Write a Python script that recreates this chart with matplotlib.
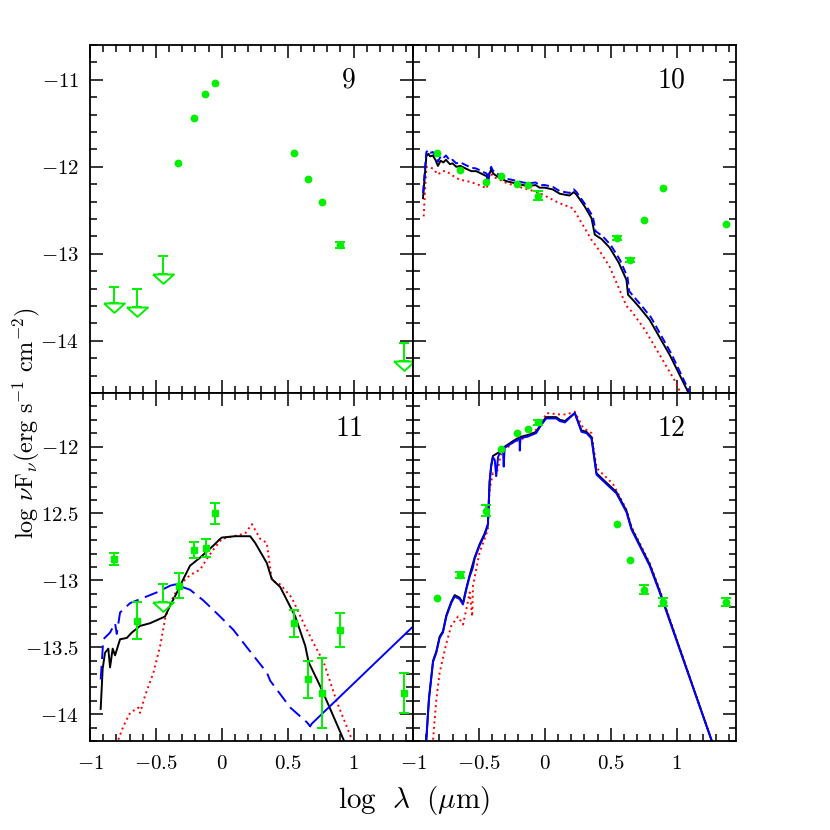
import numpy as np
import matplotlib.pyplot as plt
from matplotlib.ticker import MultipleLocator, FixedLocator, FixedFormatter

plt.rcParams['mathtext.fontset'] = 'cm'
plt.rcParams['font.family'] = 'serif'

GREEN = '#00f000'
TRI = [(-1, 0), (1, 0), (0, -0.9), (-1, 0)]  # open down-arrow head, top edge at the point

# ---------------- panel 9 ----------------
p9_x = [-0.332, -0.208, -0.125, -0.049, 0.549, 0.655, 0.759, 0.898]
p9_y = [-11.96, -11.44, -11.16, -11.04, -11.84, -12.14, -12.41, -12.90]
p9_err = [0, 0, 0, 0, 0, 0, 0, 0.03]
p9_ul_x = [-0.815, -0.641, -0.449, 1.384]
p9_ul_y = [-13.57, -13.61, -13.23, -14.23]
p9_ul_top = [-13.38, -13.41, -13.03, -14.03]

# ---------------- panel 10 ----------------
p10_x = [-0.816, -0.644, -0.449, -0.331, -0.212, -0.126, -0.053, 0.545, 0.646, 0.755, 0.894, 1.374]
p10_y = [-11.84, -12.04, -12.18, -12.11, -12.20, -12.21, -12.33, -12.82, -13.07, -12.61, -12.24, -12.66]
p10_err = [0, 0, 0, 0, 0, 0, 0.05, 0.02, 0.02, 0, 0, 0]

p10_black_x = [-0.924, -0.899, -0.885, -0.87, -0.85, -0.83, -0.811, -0.79, -0.77, -0.75, -0.72, -0.70,
               -0.672, -0.64, -0.60, -0.558, -0.52, -0.48, -0.44, -0.432, -0.42, -0.407, -0.395, -0.381,
               -0.35, -0.30, -0.28, -0.22, -0.167, -0.12, -0.07, -0.04, 0.0, 0.06, 0.114, 0.187, 0.22,
               0.24, 0.30, 0.354, 0.379, 0.43, 0.492, 0.56, 0.619, 0.631, 0.68, 0.72, 0.795, 0.95, 1.1]
p10_black_y = [-12.36, -11.88, -11.85, -11.88, -11.87, -11.92, -11.99, -11.93, -11.95, -11.92, -11.97, -11.96,
               -12.00, -11.99, -12.02, -12.05, -12.05, -12.08, -12.11, -12.19, -12.08, -12.03, -12.07, -12.09,
               -12.12, -12.16, -12.17, -12.19, -12.21, -12.22, -12.21, -12.24, -12.24, -12.26, -12.31, -12.33, -12.29,
               -12.32, -12.45, -12.59, -12.78, -12.83, -12.93, -13.10, -13.30, -13.47, -13.55, -13.62, -13.76, -14.17, -14.63]

p10_blue_x = [-0.924, -0.899, -0.885, -0.87, -0.85, -0.83, -0.811, -0.79, -0.77, -0.75, -0.72, -0.70,
              -0.672, -0.64, -0.60, -0.558, -0.52, -0.48, -0.44, -0.432, -0.42, -0.407, -0.395, -0.381,
              -0.35, -0.30, -0.28, -0.22, -0.167, -0.12, -0.07, -0.04, 0.0, 0.06, 0.114, 0.187, 0.22,
              0.24, 0.31, 0.364, 0.385, 0.44, 0.50, 0.57, 0.627, 0.64, 0.69, 0.73, 0.805, 0.96, 1.11]
p10_blue_y = [-12.30, -11.83, -11.81, -11.84, -11.83, -11.88, -11.94, -11.88, -11.90, -11.87, -11.93, -11.92,
              -11.96, -11.95, -11.98, -12.01, -12.02, -12.05, -12.08, -12.16, -12.05, -12.00, -12.04, -12.06,
              -12.09, -12.13, -12.14, -12.16, -12.18, -12.19, -12.18, -12.21, -12.21, -12.23, -12.28, -12.30, -12.26,
              -12.29, -12.44, -12.57, -12.74, -12.80, -12.90, -13.07, -13.27, -13.43, -13.52, -13.59, -13.73, -14.15, -14.63]

p10_red_x = [-0.919, -0.899, -0.87, -0.848, -0.811, -0.78, -0.747, -0.70, -0.646, -0.60, -0.533, -0.48,
             -0.44, -0.425, -0.41, -0.39, -0.369, -0.30, -0.242, -0.15, -0.04, 0.086, 0.114, 0.20, 0.215,
             0.354, 0.417, 0.492, 0.619, 0.657, 0.758, 0.998, 1.05]
p10_red_y = [-12.57, -12.00, -12.01, -12.02, -12.09, -12.05, -12.05, -12.10, -12.15, -12.16, -12.19, -12.22,
             -12.25, -12.12, -12.07, -12.12, -12.13, -12.18, -12.21, -12.25, -12.30, -12.40, -12.42, -12.47, -12.48,
             -12.84, -12.97, -13.15, -13.60, -13.66, -13.87, -14.49, -14.67]

# ---------------- panel 11 ----------------
p11_x = [-0.815, -0.643, -0.326, -0.211, -0.122, -0.049, 0.549, 0.655, 0.759, 0.898, 1.384]
p11_y = [-12.84, -13.30, -13.04, -12.77, -12.76, -12.50, -13.32, -13.74, -13.84, -13.37, -13.84]
p11_err = [0.045, 0.14, 0.093, 0.06, 0.067, 0.08, 0.10, 0.14, 0.26, 0.13, 0.15]
p11_ul_x = [-0.447]
p11_ul_y = [-13.16]
p11_ul_top = [-13.03]

p11_black_x = [-0.919, -0.904, -0.886, -0.861, -0.848, -0.828, -0.81, -0.772, -0.721, -0.683, -0.62, -0.544,
               -0.431, -0.393, -0.33, -0.292, -0.241, -0.165, -0.064, -0.013, 0.0, 0.10, 0.215, 0.253, 0.341,
               0.379, 0.443, 0.557, 0.633, 0.658, 0.746, 0.822, 0.923, 0.95]
p11_black_y = [-13.96, -13.66, -13.54, -13.51, -13.65, -13.51, -13.56, -13.44, -13.43, -13.39, -13.34, -13.32,
               -13.27, -13.19, -13.07, -12.99, -12.89, -12.83, -12.74, -12.69, -12.68, -12.67, -12.67, -12.72, -12.87,
               -12.99, -13.05, -13.27, -13.49, -13.61, -13.79, -13.96, -14.19, -14.25]

p11_red_x = [-0.785, -0.747, -0.696, -0.633, -0.62, -0.582, -0.519, -0.468, -0.431, -0.393, -0.317, -0.241,
             -0.165, -0.114, -0.064, 0.0, 0.088, 0.177, 0.228, 0.291, 0.341, 0.379, 0.443, 0.531, 0.62,
             0.696, 0.772, 0.873, 0.987, 1.0]
p11_red_y = [-14.19, -14.09, -13.99, -13.95, -13.99, -13.86, -13.69, -13.49, -13.29, -13.17, -13.03, -12.96,
             -12.92, -12.84, -12.77, -12.69, -12.67, -12.65, -12.58, -12.69, -12.72, -13.00, -13.03, -13.13, -13.32,
             -13.47, -13.61, -13.91, -14.19, -14.22]

p11_bdash_x = [-0.919, -0.899, -0.848, -0.81, -0.797, -0.772, -0.696, -0.595, -0.494, -0.393, -0.355, -0.241,
               -0.14, -0.013, 0.088, 0.19, 0.342, 0.367, 0.519, 0.645, 0.67]
p11_bdash_y = [-13.74, -13.44, -13.39, -13.32, -13.40, -13.24, -13.17, -13.13, -13.09, -13.04, -13.03, -13.07,
               -13.15, -13.27, -13.37, -13.50, -13.69, -13.75, -13.95, -14.06, -14.09]
p11_bsolid_x = [0.67, 0.683, 1.455]
p11_bsolid_y = [-14.09, -14.07, -13.34]

# ---------------- panel 12 ----------------
p12_x = [-0.816, -0.644, -0.449, -0.331, -0.212, -0.126, -0.053, 0.545, 0.646, 0.755, 0.894, 1.374]
p12_y = [-13.13, -12.96, -12.48, -12.02, -11.90, -11.87, -11.82, -12.58, -12.85, -13.07, -13.16, -13.16]
p12_err = [0, 0.02, 0.04, 0, 0, 0, 0.02, 0, 0, 0.035, 0.03, 0.03]

p12_blue_x = [-0.899, -0.879, -0.848, -0.823, -0.798, -0.773, -0.747, -0.71, -0.684, -0.646, -0.621, -0.596,
              -0.57, -0.551, -0.545, -0.533, -0.495, -0.457, -0.432, -0.419, -0.407, -0.394, -0.38, -0.369,
              -0.355, -0.343, -0.318, -0.312, -0.305, -0.242, -0.192, -0.19, -0.185, -0.116, -0.066, -0.028,
              0.01, 0.086, 0.114, 0.152, 0.227, 0.278, 0.316, 0.354, 0.392, 0.467, 0.543, 0.619, 0.657,
              0.795, 0.871, 1.263, 1.28]
p12_blue_y = [-14.19, -13.89, -13.61, -13.54, -13.43, -13.39, -13.27, -13.17, -13.12, -13.14, -13.18, -13.07,
              -12.97, -12.92, -12.90, -12.84, -12.74, -12.66, -12.59, -12.27, -12.15, -12.08, -12.10, -12.22,
              -12.08, -12.05, -12.02, -12.15, -12.01, -11.97, -11.94, -12.03, -11.94, -11.92, -11.90, -11.84,
              -11.79, -11.79, -11.81, -11.82, -11.75, -11.89, -11.90, -11.94, -12.21, -12.28, -12.35, -12.49, -12.62,
              -12.89, -13.09, -14.19, -14.23]
p12_black_x = [-0.899, -0.879, -0.848, -0.823, -0.798, -0.773, -0.747, -0.71, -0.684, -0.646, -0.621, -0.596,
               -0.57, -0.533, -0.495, -0.457, -0.432, -0.419, -0.407, -0.394, -0.343, -0.318, -0.242, -0.192,
               -0.116, -0.066, -0.028, 0.01, 0.086, 0.114, 0.152, 0.227, 0.278, 0.316, 0.354, 0.392, 0.467,
               0.543, 0.619, 0.657, 0.795, 0.871, 1.263, 1.28]
p12_black_y = [-14.19, -13.88, -13.60, -13.53, -13.42, -13.38, -13.26, -13.16, -13.11, -13.13, -13.17, -13.06,
               -12.96, -12.83, -12.73, -12.65, -12.58, -12.26, -12.14, -12.07, -12.04, -12.01, -11.96, -11.93,
               -11.91, -11.89, -11.83, -11.78, -11.78, -11.80, -11.81, -11.75, -11.88, -11.89, -11.93, -12.20,
               -12.27, -12.34, -12.48, -12.61, -12.88, -13.08, -14.19, -14.23]
p12_red_x = [-0.848, -0.823, -0.798, -0.747, -0.71, -0.659, -0.621, -0.596, -0.57, -0.551, -0.545, -0.495,
             -0.457, -0.432, -0.419, -0.394, -0.369, -0.331, -0.242, -0.116, -0.04, 0.013, 0.111, 0.164,
             0.227, 0.29, 0.354, 0.392, 0.517, 0.619, 0.657, 0.795, 0.871, 1.263, 1.28]
p12_red_y = [-14.19, -13.89, -13.69, -13.47, -13.34, -13.27, -13.33, -13.22, -13.09, -13.27, -13.04, -12.79,
             -12.69, -12.62, -12.32, -12.20, -12.22, -12.05, -11.97, -11.92, -11.85, -11.75, -11.76, -11.76,
             -11.74, -11.86, -11.90, -12.16, -12.28, -12.47, -12.60, -12.87, -13.07, -14.19, -14.23]

# ---------------- axes / labels ----------------
xlim = (-1, 1.45)
top_ylim = (-14.6, -10.6)
bot_ylim = (-14.2, -11.6)
x_ticks = [-1, -0.5, 0, 0.5, 1]
x_labels = ['$-1$', '$-0.5$', '$0$', '$0.5$', '$1$']
top_y_ticks = [-14, -13, -12, -11]
top_y_labels = ['$-14$', '$-13$', '$-12$', '$-11$']
bot_y_ticks = [-14, -13.5, -13, -12.5, -12]
bot_y_labels = ['$-14$', '$-13.5$', '$-13$', '$12.5$', '$-12$']
panel_names = ['9', '10', '11', '12']


def setup(ax, ylim, yticks, yminor, ylabels, xlabels_on):
    ax.set_xlim(xlim)
    ax.set_ylim(ylim)
    ax.xaxis.set_major_locator(FixedLocator(x_ticks))
    ax.xaxis.set_minor_locator(MultipleLocator(0.1))
    ax.yaxis.set_major_locator(FixedLocator(yticks))
    ax.yaxis.set_minor_locator(MultipleLocator(yminor))
    ax.tick_params(which='both', direction='in', top=True, right=True, width=1.1, labelsize=15)
    ax.tick_params(which='major', length=9.5)
    ax.tick_params(which='minor', length=4.8)
    ax.tick_params(axis='x', pad=9)
    ax.tick_params(axis='y', pad=8)
    if ylabels is None:
        ax.set_yticklabels([])
    else:
        ax.yaxis.set_major_formatter(FixedFormatter(ylabels))
    if xlabels_on:
        ax.xaxis.set_major_formatter(FixedFormatter(x_labels))
    else:
        ax.set_xticklabels([])
    for s in ax.spines.values():
        s.set_linewidth(1.3)


def points(ax, x, y, err, marker='o', ms=4.6):
    x = np.asarray(x)
    y = np.asarray(y)
    err = np.asarray(err)
    has = err > 0
    ax.plot(x[~has], y[~has], ls='none', marker=marker, ms=ms, color=GREEN, zorder=5)
    if has.any():
        ax.errorbar(x[has], y[has], yerr=err[has], fmt=marker, ms=ms, color=GREEN,
                    ecolor=GREEN, elinewidth=1.4, capsize=3.5, capthick=1.4, zorder=5)


def limits(ax, x, y, top):
    y = np.asarray(y)
    up = np.asarray(top) - y
    ax.errorbar(x, y, yerr=[np.zeros_like(up), up], fmt='none', ecolor=GREEN,
                elinewidth=1.4, capsize=3.5, capthick=1.4, zorder=5)
    ax.plot(x, y, ls='none', marker=TRI, ms=15, mfc='none', mec=GREEN, mew=1.4, zorder=5)


fig = plt.figure(figsize=(8.3, 8.3), dpi=100)
W, H = 323 / 830, 348 / 830
ax9 = fig.add_axes([90 / 830, 1 - 393 / 830, W, H])
ax10 = fig.add_axes([413 / 830, 1 - 393 / 830, W, H])
ax11 = fig.add_axes([90 / 830, 1 - 741 / 830, W, H])
ax12 = fig.add_axes([413 / 830, 1 - 741 / 830, W, H])

setup(ax9, top_ylim, top_y_ticks, 0.2, top_y_labels, False)
setup(ax10, top_ylim, top_y_ticks, 0.2, None, False)
setup(ax11, bot_ylim, bot_y_ticks, 0.1, bot_y_labels, True)
setup(ax12, bot_ylim, bot_y_ticks, 0.1, None, True)

lw = 1.4
dot = (0, (1, 1.8))

# panel 9
points(ax9, p9_x, p9_y, p9_err)
limits(ax9, p9_ul_x, p9_ul_y, p9_ul_top)

# panel 10
ax10.plot(p10_red_x, p10_red_y, color='red', lw=lw, ls=dot)
ax10.plot(p10_black_x, p10_black_y, color='black', lw=lw)
ax10.plot(p10_blue_x, p10_blue_y, color='blue', lw=lw, ls=(0, (4, 2)))
points(ax10, p10_x, p10_y, p10_err)

# panel 11
ax11.plot(p11_red_x, p11_red_y, color='red', lw=lw, ls=dot)
ax11.plot(p11_black_x, p11_black_y, color='black', lw=lw)
ax11.plot(p11_bdash_x, p11_bdash_y, color='blue', lw=lw, ls=(0, (7, 3.5)))
ax11.plot(p11_bsolid_x, p11_bsolid_y, color='blue', lw=lw)
points(ax11, p11_x, p11_y, p11_err, marker='s', ms=4.3)
limits(ax11, p11_ul_x, p11_ul_y, p11_ul_top)

# panel 12
ax12.plot(p12_red_x, p12_red_y, color='red', lw=lw, ls=dot)
ax12.plot(p12_black_x, p12_black_y, color='black', lw=lw)
ax12.plot(p12_blue_x, p12_blue_y, color='blue', lw=lw)
points(ax12, p12_x, p12_y, p12_err)

for ax, name in zip([ax9, ax10, ax11, ax12], panel_names):
    ax.text(0.80, 0.898, '$' + name + '$', transform=ax.transAxes, fontsize=20,
            ha='center', va='center')

fig.text(0.032, 0.49, r'$\mathrm{log}\ \nu \mathrm{F}_\nu (\mathrm{erg\ s^{-1}\ cm^{-2}})$',
         rotation=90, ha='center', va='center', fontsize=17.5)
fig.text(0.499, 0.036, r'$\mathrm{log}\ \ \lambda\ \ (\mu\mathrm{m})$',
         ha='center', va='center', fontsize=21)

fig.savefig('out.png', dpi=100)
